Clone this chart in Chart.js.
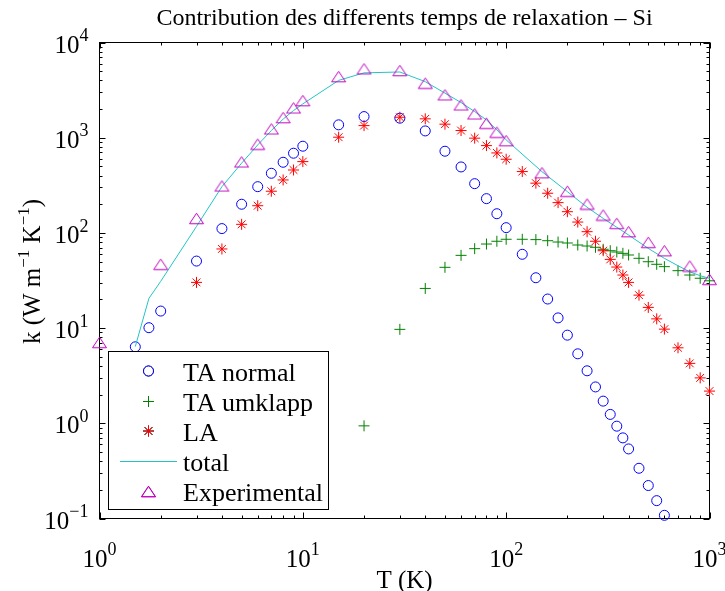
<!DOCTYPE html>
<html><head><meta charset="utf-8">
<script src="https://cdn.jsdelivr.net/npm/chart.js@4/dist/chart.umd.min.js"></script>
<style>html,body{margin:0;padding:0;background:#fff;}canvas{display:block}</style>
</head><body>
<canvas id="c" width="725" height="591" style="width:725px;height:591px"></canvas>
<script>
// ---- data ----
const tNormal=[1.5,1.75,2,3,4,5,6,7,8,9,10,15,20,30,40,50,60,70,80,90,100,120,140,160,180,200,225,250,275,300,325,350,375,400,450,500,550,600];
const kNormal=[6.36,10.1,15.1,50.6,111,200,306,423,552,687,814,1365,1667,1603,1178,721,493,329,229,159,113.5,59.6,33.8,20.2,12.8,8.43,5.37,3.56,2.41,1.71,1.24,0.933,0.703,0.538,0.337,0.222,0.154,0.108];
const tUmklapp=[20,30,40,50,60,70,80,90,100,120,140,160,180,200,225,250,275,300,325,350,375,400,450,500,550,600,700,800,900,1000];
const kUmklapp=[0.94,9.7,26.1,43.5,58.1,68.3,76.4,81.7,85.7,85.7,85,82.8,80.2,78.3,74.6,72.8,70.6,67.3,65,63,61,58.6,54.1,49.8,46.8,44.2,40.1,36.1,33.4,31.4];
const tLA=[3,4,5,6,7,8,9,10,15,20,30,40,50,60,70,80,90,100,120,140,160,180,200,225,250,275,300,325,350,375,400,450,500,550,600,700,800,900,1000];
const kLA=[30.2,67.8,123,193,274,360,458,561,1012,1340,1641,1578,1387,1189,989,826,692,594,441,333,261,208,167,130,103,81.7,65,52.7,43.8,36.1,30.2,22.2,16.5,12.5,9.75,6.21,4.26,3.0,2.18];
const tTotal=[1.5,1.75,2,3,4,5,6,7,8,9,10,15,20,30,40,50,60,70,80,90,100,150,200,250,300,350,400,500,600,700,800,900,1000];
const kTotal=[6.4,20.5,31,117,306,540,840,1189,1567,1928,2265,4000,4800,4900,3880,2940,2340,1880,1538,1208,948,440,271,186,142,114.6,95,68.8,54,45.2,39,35.5,33.3];
const tExp=[1,2,3,4,5,6,7,8,9,10,15,20,30,40,50,60,70,80,90,100,150,200,250,300,350,400,500,600,800,1000];
const kExp=[7.08,46.8,142,311,557,855,1237,1626,2056,2455,4385,5285,5080,3740,2818,2212,1778,1419,1143,931,429,274,201,154,126,103,79.6,65,44.9,32.5];

const xTicks=[1,10,100,1000];
const xTickExp=['0','1','2','3'];
const yTicks=[0.1,1,10,100,1000,10000];
const yTickExp=['\u22121','0','1','2','3','4'];
const seriesNames=['TA normal','TA umklapp','LA','total','Experimental'];
const titleText='Contribution des differents temps de relaxation \u2013 Si';
const xTitle='T (K)';

const FONT='"Liberation Serif","Times New Roman",serif';
const COL={normal:'#0000ff',umk:'#008000',la:'#ff0000',total:'#22c5c5',exp:'#bf00bf'};

function triangleMarker(){
  const c=document.createElement('canvas'); c.width=17; c.height=13;
  const g=c.getContext('2d'); g.strokeStyle=COL.exp; g.lineWidth=1;
  g.beginPath(); g.moveTo(8.5,1.25); g.lineTo(15.5,11.75); g.lineTo(1.5,11.75); g.closePath(); g.stroke();
  return c;
}
const triImg=triangleMarker();

const pts=(xs,ys)=>xs.map((x,i)=>({x:x,y:ys[i]}));

const styles=[
  {pointStyle:'circle',radius:5,borderColor:COL.normal,borderWidth:1},
  {pointStyle:'cross',radius:5.5,borderColor:COL.umk,borderWidth:1},
  {pointStyle:'star',radius:5.5,borderColor:COL.la,borderWidth:1},
  null,
  {pointStyle:triImg,radius:7,borderColor:COL.exp,borderWidth:1}
];

function drawSupText(ctx,x,y,base,sup,align,size){
  // base text + superscript, aligned by align ('center'|'right'), baseline y
  ctx.font=size+'px '+FONT;
  const wb=ctx.measureText(base).width;
  const ss=Math.round(size*0.7);
  ctx.font=ss+'px '+FONT;
  const ws=ctx.measureText(sup).width;
  const tot=wb+ws;
  let x0 = align==='center' ? x-tot/2 : x-tot;
  ctx.textAlign='left'; ctx.textBaseline='alphabetic';
  ctx.font=size+'px '+FONT; ctx.fillText(base,x0,y);
  ctx.font=ss+'px '+FONT; ctx.fillText(sup,x0+wb,y-size*0.45);
}

const axesPlugin={
  id:'axesPlugin',
  beforeDatasetsDraw(chart){
    const {ctx,chartArea:a,scales:{x,y}}=chart;
    ctx.save();
    ctx.strokeStyle='#000'; ctx.lineWidth=1;
    ctx.strokeRect(a.left,a.top,a.right-a.left,a.bottom-a.top);
    ctx.beginPath();
    for(const b of xTicks){
      for(let m=1;m<=9;m++){
        const v=b*m; if(v>x.max*1.0001) break;
        const px=Math.round(x.getPixelForValue(v))+0.5;
        const L=(m===1)?6:3;
        ctx.moveTo(px,a.bottom); ctx.lineTo(px,a.bottom-L);
        ctx.moveTo(px,a.top); ctx.lineTo(px,a.top+L);
      }
    }
    for(const b of yTicks){
      for(let m=1;m<=9;m++){
        const v=b*m; if(v>y.max*1.0001) break;
        const py=Math.round(y.getPixelForValue(v))+0.5;
        const L=(m===1)?6:3;
        ctx.moveTo(a.left,py); ctx.lineTo(a.left+L,py);
        ctx.moveTo(a.right,py); ctx.lineTo(a.right-L,py);
      }
    }
    ctx.stroke();
    ctx.restore();
  },
  afterDraw(chart){
    const {ctx,chartArea:a,scales:{x,y}}=chart;
    ctx.save();
    ctx.fillStyle='#000';
    // tick labels
    xTicks.forEach((v,i)=>{
      drawSupText(ctx,x.getPixelForValue(v),a.bottom+48,'10',xTickExp[i],'center',25);
    });
    yTicks.forEach((v,i)=>{
      drawSupText(ctx,a.left-11,y.getPixelForValue(v)+10,'10',yTickExp[i],'right',25);
    });
    // title
    const cx=(a.left+a.right)/2;
    ctx.font='24px '+FONT; ctx.textAlign='center'; ctx.textBaseline='alphabetic';
    ctx.fillText(titleText,cx,25);
    // x title
    ctx.font='25px '+FONT;
    ctx.fillText(xTitle,cx,a.bottom+69);
    // y title (rotated)
    ctx.save();
    ctx.translate(40,(a.top+a.bottom)/2-9);
    ctx.rotate(-Math.PI/2);
    const parts=[['k (W m',0],['\u22121',1],[' K',0],['\u22121',1],[')',0]];
    let w=0; const fs=25, ss=17;
    parts.forEach(p=>{ctx.font=(p[1]?ss:fs)+'px '+FONT; p.w=ctx.measureText(p[0]).width; w+=p.w;});
    let xx=-w/2; ctx.textAlign='left';
    parts.forEach(p=>{ctx.font=(p[1]?ss:fs)+'px '+FONT; ctx.fillText(p[0],xx,p[1]?-11:0); xx+=p.w;});
    ctx.restore();
    // legend
    const L={x:108.5,y:351.5,w:220,h:158};
    ctx.fillStyle='#fff'; ctx.fillRect(L.x,L.y,L.w,L.h);
    ctx.strokeStyle='#000'; ctx.lineWidth=1; ctx.strokeRect(L.x,L.y,L.w,L.h);
    const rows=[371,401.5,431,461,491.5];
    seriesNames.forEach((name,i)=>{
      const ry=rows[i];
      if(styles[i]){
        Chart.helpers.drawPoint(ctx,{pointStyle:styles[i].pointStyle,radius:styles[i].radius,rotation:0,borderWidth:1},148.5,ry);
        ctx.save(); ctx.strokeStyle=styles[i].borderColor; ctx.lineWidth=1;
        ctx.beginPath(); Chart.helpers.drawPoint(ctx,{pointStyle:styles[i].pointStyle,radius:styles[i].radius,rotation:0,borderWidth:1},148.5,ry); ctx.restore();
      } else {
        ctx.strokeStyle=COL.total; ctx.lineWidth=1;
        ctx.beginPath(); ctx.moveTo(120,ry+0.5); ctx.lineTo(177,ry+0.5); ctx.stroke();
      }
      ctx.fillStyle='#000'; ctx.font='26px '+FONT; ctx.textAlign='left';
      ctx.fillText(name,183,ry+9.5);
    });
    ctx.restore();
  }
};

new Chart(document.getElementById('c'),{
  type:'scatter',
  data:{datasets:[
    {label:seriesNames[0],data:pts(tNormal,kNormal),showLine:false,pointStyle:'circle',pointRadius:5,pointBorderWidth:1,borderColor:COL.normal,backgroundColor:'rgba(0,0,0,0)',order:5,clip:false},
    {label:seriesNames[1],data:pts(tUmklapp,kUmklapp),showLine:false,pointStyle:'cross',pointRadius:5.5,pointBorderWidth:1,borderColor:COL.umk,backgroundColor:'rgba(0,0,0,0)',order:4,clip:false},
    {label:seriesNames[2],data:pts(tLA,kLA),showLine:false,pointStyle:'star',pointRadius:5.5,pointBorderWidth:1,borderColor:COL.la,backgroundColor:'rgba(0,0,0,0)',order:3,clip:false},
    {label:seriesNames[3],data:pts(tTotal,kTotal),showLine:true,pointRadius:0,borderWidth:1,borderColor:COL.total,backgroundColor:'rgba(0,0,0,0)',tension:0,order:2,clip:false},
    {label:seriesNames[4],data:pts(tExp,kExp),showLine:false,pointStyle:triImg,pointRadius:7,pointBorderWidth:1,borderColor:COL.exp,backgroundColor:'rgba(0,0,0,0)',order:1,clip:false}
  ]},
  options:{
    responsive:false, animation:false, events:[],
    layout:{padding:{left:99.5,right:15.5,top:42.5,bottom:72.5},autoPadding:false},
    scales:{
      x:{type:'logarithmic',min:1,max:1000,display:false},
      y:{type:'logarithmic',min:0.1,max:10000,display:false}
    },
    plugins:{legend:{display:false},title:{display:false},tooltip:{enabled:false}}
  },
  plugins:[axesPlugin]
});
</script>
</body></html>
